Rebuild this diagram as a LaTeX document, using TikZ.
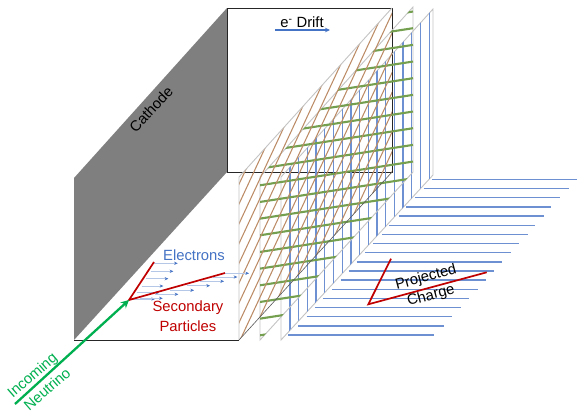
\documentclass[tikz,border=0pt]{standalone}
\usepackage{fontspec}
\setmainfont{Liberation Sans}
\usetikzlibrary{arrows.meta}
\definecolor{cathgray}{HTML}{7F7F7F}
\definecolor{frameg}{HTML}{C4C4C4}
\definecolor{wireblue}{HTML}{6D90D2}
\definecolor{wirebrown}{HTML}{BC8C66}
\definecolor{wiregreen}{HTML}{739F4E}
\definecolor{eblue}{HTML}{4472C4}
\definecolor{elight}{HTML}{B4C7E7}
\definecolor{tred}{HTML}{C00000}
\definecolor{ngreen}{HTML}{00B050}
\tikzset{
  frameline/.style={draw=frameg,line width=0.9bp},
  bwire/.style={wireblue,line width=1.25bp},
  hatchwire/.style={wirebrown,line width=1.05bp},
  gwire/.style={wiregreen,line width=2.1bp},
  track/.style={tred,line width=1.7bp},
  drifte/.style={elight,line width=0.9bp,-{Stealth[length=3.6bp,width=3.2bp,color=eblue]}},
  lab/.style={inner sep=0pt,font=\fontsize{14.8bp}{16bp}\selectfont},
}
\begin{document}
\begin{tikzpicture}[x=1bp,y=-1bp]
\useasboundingbox (0,0) rectangle (581,417);
\fill[white] (0,0) rectangle (581,417);
% cathode and box
\fill[cathgray] (74,178) -- (227,8) -- (227,172) -- (74,340) -- cycle;
\draw[black!85,line width=1bp,fill=white] (227,8) rectangle (392,172);
\draw[black!85,line width=1bp] (74,340) -- (239,340);
% plane 3 (induction, vertical wires)
\draw[frameline] (281,177) -- (433,9) -- (433,175) -- (281,340) -- cycle;
\begin{scope}
\clip (281,177) -- (433,9) -- (433,175) -- (281,340) -- cycle;
\foreach \k in {0,...,16}{
  \pgfmathsetmacro{\xx}{290+8.7*\k}
  \draw[bwire] (\xx,0) -- (\xx,417);
}
\end{scope}
% plane 2 (green wires)
\draw[frameline] (260,177) -- (413,7) -- (413,172) -- (260,340) -- cycle;
\begin{scope}
\clip (260,177) -- (413,7) -- (413,172) -- (260,340) -- cycle;
\foreach \k in {0,...,18}{
  \pgfmathsetmacro{\cc}{335.3-16.67*\k}
  \pgfmathsetmacro{\ee}{\cc-0.155*153}
  \draw[gwire] (260,\cc) -- (413,\ee);
}
\end{scope}
% plane 1 (brown hatch)
\begin{scope}
\clip (239,177) -- (392,8) -- (392,172) -- (239,340) -- cycle;
\foreach \k in {-12,...,26}{
  \pgfmathsetmacro{\xa}{254+9.2*\k}
  \draw[hatchwire] (\xa,171.7) -- ++(86,-184.9) (\xa,171.7) -- ++(-86,184.9);
}
\end{scope}
\draw[frameline] (239,340) -- (239,177) -- (392,8);
\draw[black!65,line width=0.6bp] (239,340) -- (392,172);
% projected charge wires
\foreach \yy/\xl/\xr in {179.3/432/577.3,188.7/423.7/569,197.7/415/560.3,207/406/551.3,216/398.7/544,225.3/389.3/535,234.3/382/527.7,243.7/373/518.7,252.7/365/510.7,262/356.7/502.3,271/348.7/494.3,280/340.7/486,289.3/332/477.7,298.3/323.3/469,307.7/315/461,316.7/306.7/452.3,326/298.3/443.7,335/288.3/433.7}{
  \draw[bwire] (\xl,\yy) -- (\xr,\yy);
}
% drifting electrons
\foreach \xa/\ya/\xb in {154.3/263.3/177.7,150.7/271.3/173.3,145.7/278.7/168.3,141.7/286/163.3,136.7/292.7/159.3,132.7/299/155,225/273.3/249,213.3/277/237.3,200/281.3/224,186.7/285.7/210,170/290.3/194,155/294.3/178.3,140/298.3/162.7}{
  \draw[drifte] (\xa,\ya) -- (\xb,\ya);
}
% tracks
\coordinate (vtx) at (129,300);
\coordinate (nstart) at (15,404);
\coordinate (ta) at (154,262);
\coordinate (tb) at (225,273);
\draw[track] (ta) -- (vtx) -- (tb);
\draw[ngreen,line width=2.3bp,-{Stealth[length=8bp,width=8bp]}] (nstart) -- (vtx);
\coordinate (pv) at (368.3,304.3);
\coordinate (pa) at (391,258.7);
\coordinate (pb) at (486.7,272.3);
\draw[track] (pa) -- (pv) -- (pb);
% drift arrow
\coordinate (da) at (275,30);
\coordinate (db) at (330,30);
\draw[eblue,line width=1.2bp,-{Stealth[length=5bp,width=4.5bp]}] (da) -- (db);
% labels
\node[lab] (drift) at (302,22) {e\textsuperscript{-} Drift};
\node[lab,rotate=47] (cath) at (151,109) {Cathode};
\node[lab,text=eblue] (elec) at (194,255) {Electrons};
\node[lab,text=tred] (sec) at (188,308) {Secondary};
\node[lab,text=tred] (part) at (188,326) {Particles};
\node[lab,text=ngreen,rotate=41] (inc) at (33,376) {Incoming};
\node[lab,text=ngreen,rotate=41] (neu) at (47,389) {Neutrino};
\node[lab,rotate=15] (proj) at (426,278) {Projected};
\node[lab,rotate=15] (chg) at (431,296) {Charge};
\end{tikzpicture}
\end{document}
